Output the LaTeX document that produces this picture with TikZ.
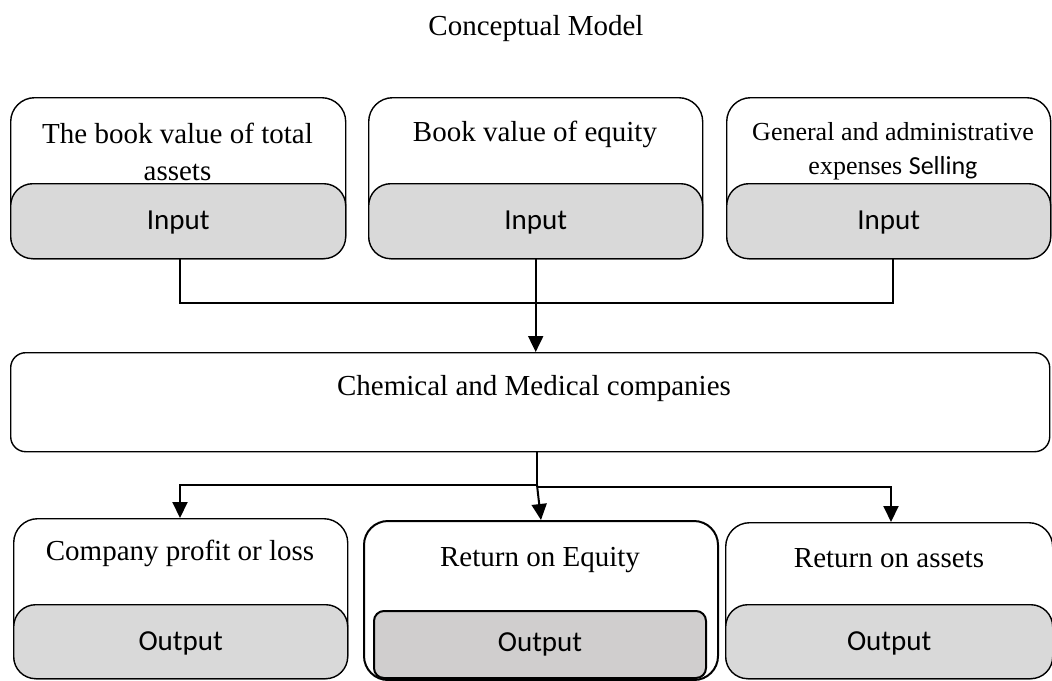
\documentclass[tikz,border=0pt]{standalone}
\usepackage{fontspec}
\setmainfont{Liberation Serif}
\newfontfamily\calibri{Carlito}
\usetikzlibrary{arrows.meta}
\definecolor{panelgray}{HTML}{D9D9D9}
\definecolor{outgray}{HTML}{D0CECE}
\tikzset{
  card/.style={draw, line width=1.4pt, rounded corners=24pt, anchor=north west, inner sep=0pt},
  tab/.style={draw, fill=panelgray, line width=1.4pt, rounded corners=22pt, anchor=north west, inner sep=0pt},
  boxtext/.style={font=\fontsize{29}{37}\selectfont, align=center, inner sep=0pt},
  smalltext/.style={font=\fontsize{26}{34}\selectfont, align=center, inner sep=0pt},
  tabtext/.style={font=\calibri\fontsize{29}{35}\selectfont, inner sep=0pt},
  wire/.style={line width=2pt},
  feed/.style={wire, -{Triangle[length=16pt,width=15pt]}},
}
\begin{document}
\begin{tikzpicture}[x=1pt,y=-1pt]
\useasboundingbox (0,0) rectangle (1052,680);

% title
\node[boxtext] (title) at (536,29) {Conceptual Model};

% input cards
\node[card, minimum width=335pt, minimum height=161pt] (c1) at (10,97) {};
\node[tab, minimum width=335pt, minimum height=75pt] (g1) at (10,183) {};
\node[boxtext] (t1) at (177.5,152) {The book value of total\\assets};
\node[tabtext] (i1) at ([yshift=-1pt]g1.center) {Input};

\node[card, minimum width=334pt, minimum height=161pt] (c2) at (368,97) {};
\node[tab, minimum width=334pt, minimum height=75pt] (g2) at (368,183) {};
\node[boxtext] (t2) at (535,134) {Book value of equity};
\node[tabtext] (i2) at ([yshift=-1pt]g2.center) {Input};

\node[card, minimum width=324pt, minimum height=161pt] (c3) at (726,97) {};
\node[tab, minimum width=324pt, minimum height=75pt] (g3) at (726,183) {};
\node[smalltext] (t3) at (893,151) {General and administrative\\expenses {\calibri Selling}};
\node[tabtext] (i3) at ([yshift=-1pt]g3.center) {Input};

% central box
\node[card, rounded corners=15pt, minimum width=1039pt, minimum height=99pt] (mid) at (10,352) {};
\node[boxtext] (mt) at (534,389) {Chemical and Medical companies};

% output cards
\node[card, minimum width=334pt, minimum height=160pt] (o1) at (13,518) {};
\node[tab, minimum width=334pt, minimum height=74pt] (h1) at (13,604) {};
\node[boxtext] (u1) at (180,553) {Company profit or loss};
\node[tabtext] (p1) at ([yshift=-2pt]h1.center) {Output};

\node[card, line width=2pt, minimum width=354pt, minimum height=159pt] (o2) at (363,520) {};
\node[tab, fill=outgray, line width=2pt, rounded corners=10pt, minimum width=332pt, minimum height=67pt] (h2) at (373,610) {};
\node[boxtext] (u2) at (540,560) {Return on Equity};
\node[tabtext] (p2) at (h2.center) {Output};

\node[card, minimum width=327pt, minimum height=156pt] (o3) at (725,522) {};
\node[tab, minimum width=327pt, minimum height=74pt] (h3) at (725,604) {};
\node[boxtext] (u3) at (889,558) {Return on assets};
\node[tabtext] (p3) at ([yshift=-2pt]h3.center) {Output};

% connector columns
\coordinate (xa) at (180,0);
\coordinate (xb) at (893,0);
\coordinate (xc) at (891,0);
\coordinate (xd) at (541,0);
\coordinate (split) at (537,485);
\coordinate (splitr) at (537,487);

% inputs into the central box
\draw[wire] (g1.south -| xa) -- (180,303) -| (g3.south -| xb);
\draw[feed] (g2.south) -- (mid.north -| g2.south);

% central box out to the results
\draw[wire] (mid.south -| split) -- (split);
\draw[feed] (split) -| (o1.north -| xa);
\draw[feed] (split) -- (o2.north -| xd);
\draw[feed] (splitr) -| (o3.north -| xc);
\end{tikzpicture}
\end{document}
